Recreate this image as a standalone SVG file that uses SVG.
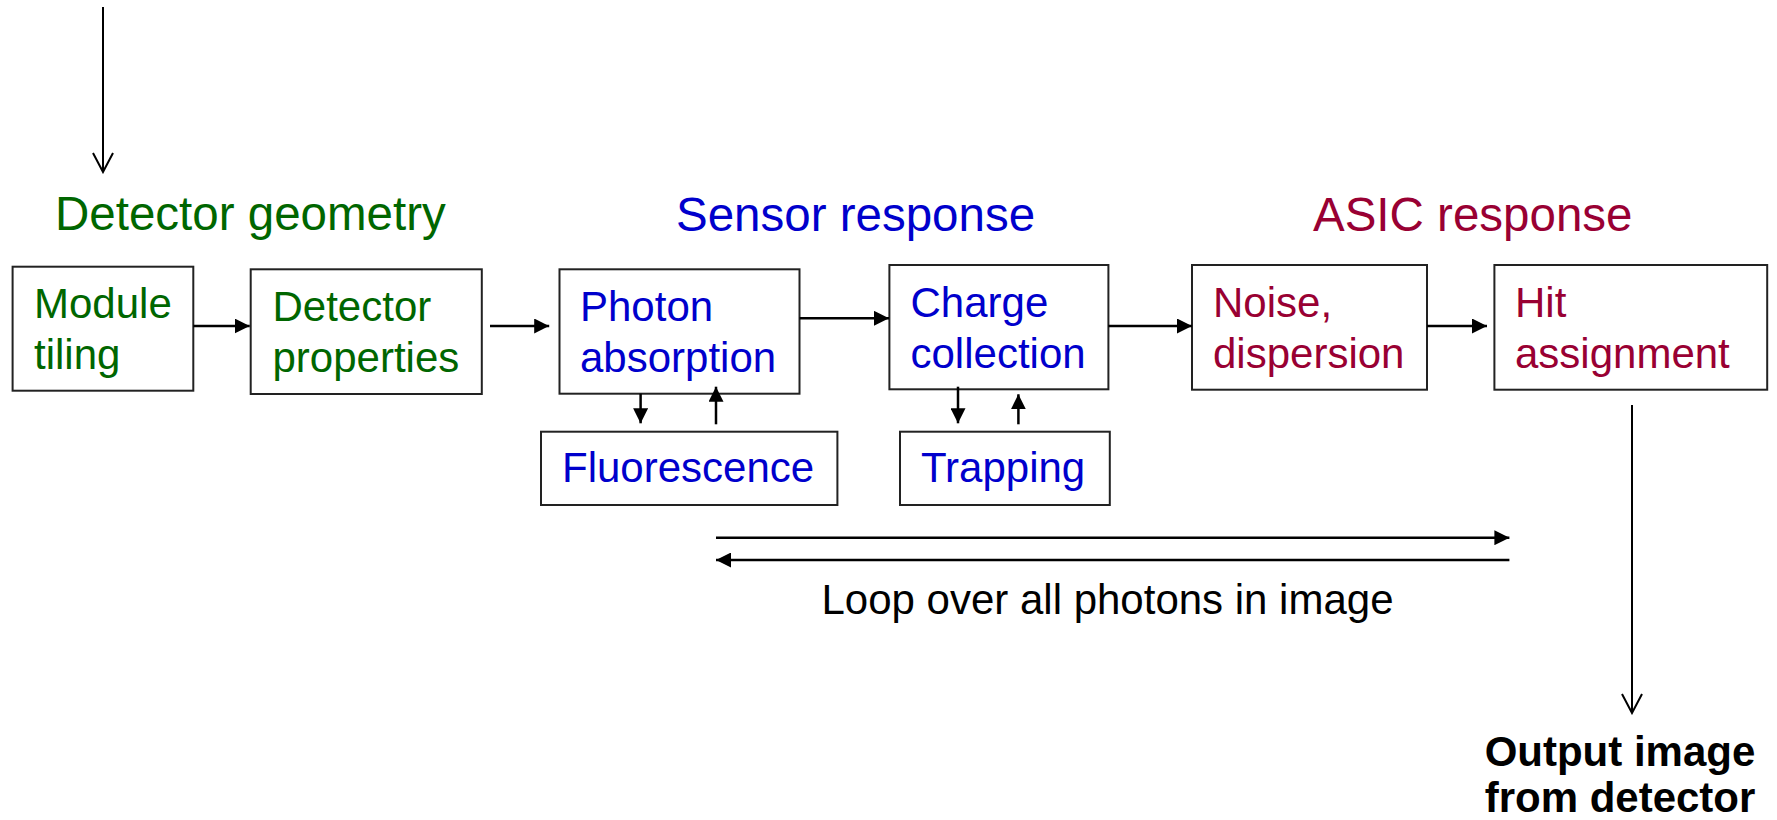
<svg xmlns="http://www.w3.org/2000/svg" width="1777" height="820" viewBox="0 0 1777 820">
<style>
.box{fill:#fff;stroke:#222;stroke-width:2}
.t{font-family:"Liberation Sans",Arial,sans-serif;font-size:42px}
.h{font-family:"Liberation Sans",Arial,sans-serif;font-size:47.5px}
.g{fill:#006600}
.b{fill:#0000cc}
.m{fill:#990033}
.k{fill:#000}
.c{stroke:#000;stroke-width:2.5;fill:none}
.cv{stroke:#000;stroke-width:2;fill:none}
</style>
<defs>
<marker id="tri" viewBox="0 0 15 15" refX="15" refY="7.5" markerWidth="15" markerHeight="15" markerUnits="userSpaceOnUse" orient="auto">
<path d="M0,0 L15,7.5 L0,15 z" fill="#000"/>
</marker>
<marker id="vee" viewBox="0 0 22 22" refX="20" refY="11" markerWidth="22" markerHeight="22" markerUnits="userSpaceOnUse" orient="auto">
<path d="M1,1 L20,11 L1,21" fill="none" stroke="#000" stroke-width="2"/>
</marker>
</defs>
<rect width="1777" height="820" fill="#fff"/>

<g id="titles">
<text class="h g" x="55" y="230">Detector geometry</text>
<text class="h b" x="676" y="231">Sensor response</text>
<text class="h m" x="1313" y="231">ASIC response</text>
</g>

<g id="module-tiling">
<rect class="box" x="12.6" y="266.7" width="180.7" height="124"/>
<text class="t g" x="34" y="318">Module</text>
<text class="t g" x="34" y="368.5">tiling</text>
</g>
<g id="detector-properties">
<rect class="box" x="250.7" y="269.3" width="231.1" height="124.7"/>
<text class="t g" x="272.5" y="321">Detector</text>
<text class="t g" x="272.5" y="371.5">properties</text>
</g>
<g id="photon-absorption">
<rect class="box" x="559.5" y="269.3" width="240" height="124.4"/>
<text class="t b" x="580" y="321">Photon</text>
<text class="t b" x="580" y="371.5">absorption</text>
</g>
<g id="fluorescence">
<rect class="box" x="541" y="431.7" width="296.4" height="73.3"/>
<text class="t b" x="562" y="482.3">Fluorescence</text>
</g>
<g id="charge-collection">
<rect class="box" x="889.4" y="265" width="219" height="124.3"/>
<text class="t b" x="910.5" y="317">Charge</text>
<text class="t b" x="910.5" y="367.5">collection</text>
</g>
<g id="trapping">
<rect class="box" x="900" y="431.7" width="209.8" height="73.3"/>
<text class="t b" x="921" y="482.3">Trapping</text>
</g>
<g id="noise-dispersion">
<rect class="box" x="1192" y="265" width="235" height="124.7"/>
<text class="t m" x="1213" y="317">Noise,</text>
<text class="t m" x="1213" y="367.5">dispersion</text>
</g>
<g id="hit-assignment">
<rect class="box" x="1494.4" y="265" width="272.8" height="124.7"/>
<text class="t m" x="1515" y="317">Hit</text>
<text class="t m" x="1515" y="367.5">assignment</text>
</g>

<g id="loop-label">
<text class="t k" x="1107.5" y="614" text-anchor="middle">Loop over all photons in image</text>
</g>
<g id="output">
<text class="t k" x="1620" y="766" text-anchor="middle" font-weight="bold">Output image</text>
<text class="t k" x="1620" y="812" text-anchor="middle" font-weight="bold">from detector</text>
</g>

<g id="connectors">
<line class="cv" x1="103" y1="7" x2="103" y2="172" marker-end="url(#vee)"/>
<line class="c" x1="193.3" y1="326" x2="249.7" y2="326" marker-end="url(#tri)"/>
<line class="c" x1="490" y1="326" x2="549.2" y2="326" marker-end="url(#tri)"/>
<line class="c" x1="799.5" y1="318.3" x2="889" y2="318.3" marker-end="url(#tri)"/>
<line class="c" x1="1108.3" y1="326" x2="1192" y2="326" marker-end="url(#tri)"/>
<line class="c" x1="1427" y1="326" x2="1487" y2="326" marker-end="url(#tri)"/>
<line class="c" x1="640.6" y1="393.7" x2="640.6" y2="423.3" marker-end="url(#tri)"/>
<line class="c" x1="716" y1="424.3" x2="716" y2="386.7" marker-end="url(#tri)"/>
<line class="c" x1="958" y1="386.7" x2="958" y2="423.3" marker-end="url(#tri)"/>
<line class="c" x1="1018.4" y1="424.3" x2="1018.4" y2="394.3" marker-end="url(#tri)"/>
<line class="c" x1="716" y1="537.7" x2="1509.4" y2="537.7" marker-end="url(#tri)"/>
<line class="c" x1="1509.4" y1="560" x2="716" y2="560" marker-end="url(#tri)"/>
<line class="cv" x1="1632" y1="405" x2="1632" y2="713" marker-end="url(#vee)"/>
</g>
</svg>
